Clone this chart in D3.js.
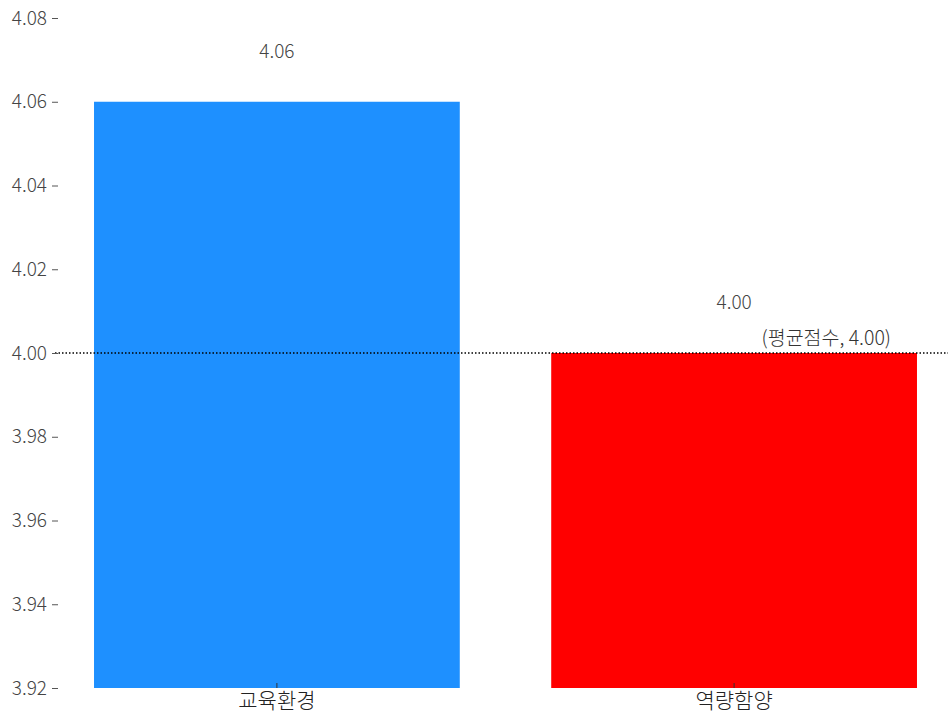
<!DOCTYPE html>
<html><head><meta charset="utf-8">
<script src="https://cdn.jsdelivr.net/npm/d3@7"></script>
<style>body{margin:0;background:#fff;} text{font-family:"Noto Sans CJK KR","Noto Sans",sans-serif;font-weight:300;}</style>
</head><body>
<svg id="chart" width="948" height="712"></svg>
<script>
const categories = ["교육환경", "역량함양"];
const values = [4.06, 4.00];
const colors = ["#1E90FF", "#FF0000"];
const yTicks = [3.92, 3.94, 3.96, 3.98, 4.00, 4.02, 4.04, 4.06, 4.08];
const meanScore = 4.00;
const meanLabel = "(평균점수, 4.00)";

const FONT = '"Noto Sans CJK KR","Noto Sans",sans-serif';
const svg = d3.select("#chart");
const y = d3.scaleLinear().domain([3.92, 4.08]).range([688, 18]);
const x = d3.scaleBand().domain(categories).range([48.3, 962.7]).paddingInner(0.2).paddingOuter(0.1);

svg.selectAll("rect.bar").data(categories).enter().append("rect")
  .attr("class","bar")
  .attr("x", d => x(d))
  .attr("width", x.bandwidth())
  .attr("y", (d,i) => y(values[i]))
  .attr("height", (d,i) => y(3.92) - y(values[i]))
  .attr("fill", (d,i) => colors[i]);

// value labels
svg.selectAll("text.val").data(categories).enter().append("text")
  .attr("class","val")
  .attr("x", d => x(d) + x.bandwidth()/2)
  .attr("y", (d,i) => y(values[i]) - 44)
  .attr("text-anchor","middle")
  .attr("font-size", 19)
  .attr("fill","#444")
  .text((d,i) => values[i].toFixed(2));

// mean line
svg.append("line")
  .attr("x1", 55).attr("x2", 948)
  .attr("y1", y(meanScore)).attr("y2", y(meanScore))
  .attr("stroke","#000").attr("stroke-width",1.3)
  .attr("stroke-dasharray","1.5,2");
svg.append("text")
  .attr("x", 891).attr("y", y(meanScore) - 8)
  .attr("text-anchor","end")
  .attr("font-size", 19.5)
  .attr("fill","#333")
  .text(meanLabel);

// y axis
const yAxis = d3.axisLeft(y).tickValues(yTicks).tickFormat(d3.format(".2f")).tickSize(6).tickPadding(5);
const gy = svg.append("g").attr("transform","translate(58,0)").call(yAxis);
gy.select(".domain").remove();
gy.selectAll(".tick line").attr("stroke","#555");
gy.selectAll(".tick text").attr("font-size",19).attr("fill","#444")
  .style("font-family",FONT).style("font-weight",300);

// x axis
const xAxis = d3.axisBottom(x).tickSize(-5).tickPadding(9);
const gx = svg.append("g").attr("transform","translate(0,688)").call(xAxis);
gx.select(".domain").remove();
gx.selectAll(".tick line").attr("stroke","#333");
gx.selectAll(".tick text").attr("font-size",21).attr("fill","#222").attr("dy","0.5em")
  .style("font-family",FONT).style("font-weight",300);
</script>
</body></html>
